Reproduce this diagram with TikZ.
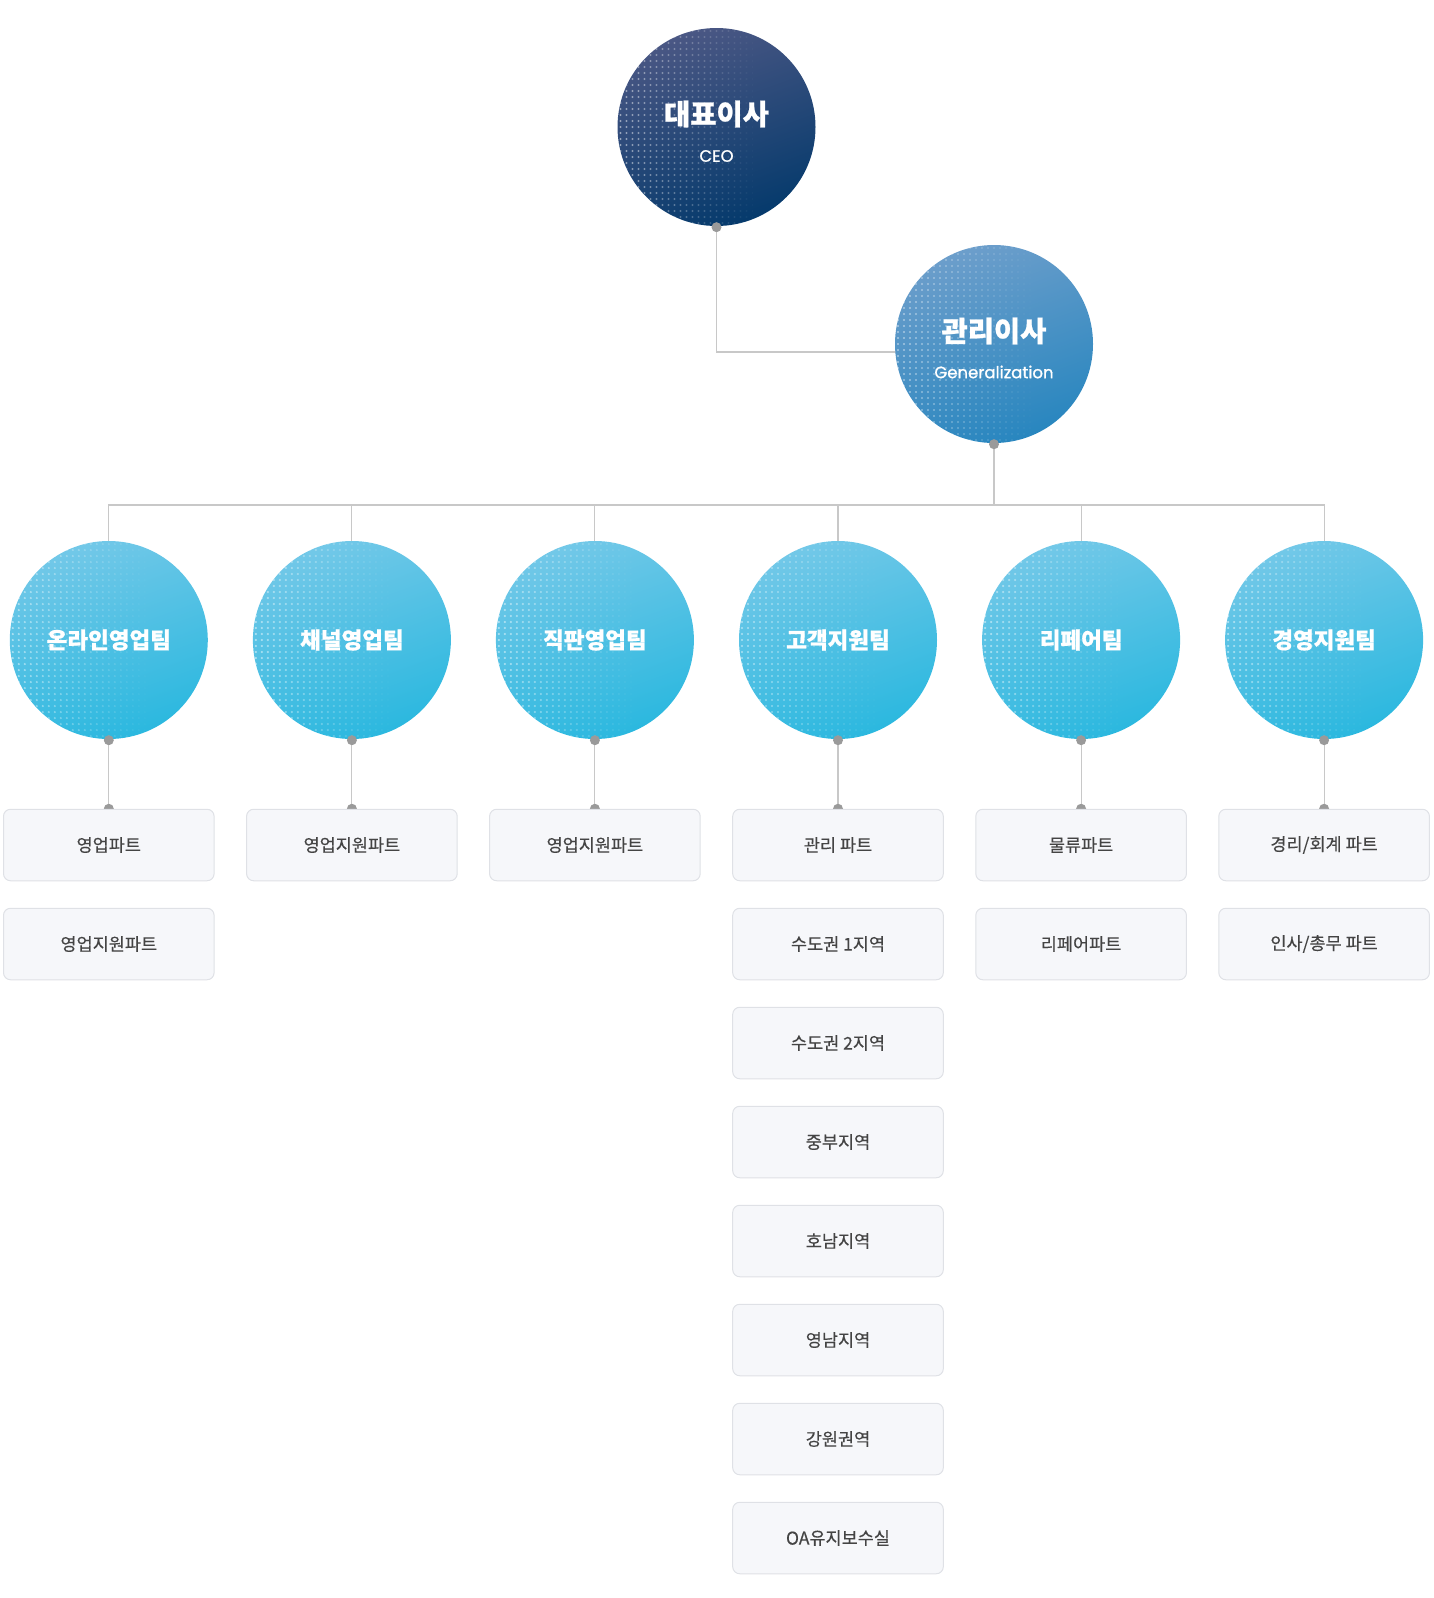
\documentclass[tikz,border=0pt]{standalone}
\usepackage{fontspec}
\setmainfont{Noto Sans CJK KR}[BoldFeatures={FakeBold=0.8}]
\newfontfamily\boxfont{Noto Sans CJK KR}[FakeBold=0.35]
\newfontfamily\popfont{Poppins}[FakeBold=1.1]
\usetikzlibrary{calc}
\pgfdeclarelayer{bg}
\pgfsetlayers{bg,main}
\definecolor{ceoA}{HTML}{4A5784}
\definecolor{ceoM}{HTML}{163B6E}
\definecolor{ceoB}{HTML}{053A6C}
\definecolor{mgrA}{HTML}{6C9ECB}
\definecolor{mgrM}{HTML}{338AC2}
\definecolor{mgrB}{HTML}{2886BF}
\definecolor{teamA}{HTML}{72C8E8}
\definecolor{teamM}{HTML}{33BBE1}
\definecolor{teamB}{HTML}{2BB8DF}
\definecolor{linec}{HTML}{C8C8C8}
\definecolor{dotc}{HTML}{9A9A9A}
\definecolor{boxfill}{HTML}{F6F7FA}
\definecolor{boxline}{HTML}{DFE1E6}
\definecolor{boxtext}{HTML}{444444}
\newcommand\mydotfield[3]{%
  \begin{scope}
    \clip (#1,#2) circle (#3);
    \foreach \i in {0,...,22}{
      \pgfmathsetmacro\al{0.5*(1-\i/23)}
      \pgfmathsetmacro\xx{#1-#3+3+6*\i}
      \fill[white,opacity=\al] \foreach \j in {0,...,33}{ (\xx,{#2-#3+3+6*\j}) circle (1.2) };
    }
  \end{scope}}
\tikzset{
  bigcirc/.style={circle, minimum size=198, inner sep=0, text=white},
  ceostyle/.style={bigcirc, top color=ceoA, middle color=ceoM, bottom color=ceoB, shading angle=20},
  mgrstyle/.style={bigcirc, top color=mgrA, middle color=mgrM, bottom color=mgrB, shading angle=20},
  teamstyle/.style={bigcirc, top color=teamA, middle color=teamM, bottom color=teamB, shading angle=20},
  teamtitle/.style={text=white, font=\fontsize{22.5}{24}\selectfont\bfseries, inner sep=0},
  bigtitle/.style={text=white, font=\fontsize{28.5}{30}\selectfont\bfseries, inner sep=0},
  subtitle/.style={text=white, font=\fontsize{16.5}{18}\selectfont\popfont, inner sep=0},
  partbox/.style={draw=boxline, line width=1, fill=boxfill, rounded corners=7,
     minimum width=210.6, minimum height=71.5, inner sep=0, text=boxtext,
     font=\fontsize{17.5}{19}\selectfont\boxfont},
  conn/.style={draw=linec, line width=1.1},
  jdot/.style={fill=dotc},
}
\begin{document}
\begin{tikzpicture}[x=1pt,y=-1pt]
\useasboundingbox (0,0) rectangle (1433,1598);
% top circles
\node[ceostyle] (ceo) at (716.5,127) {};
\mydotfield{716.5}{127}{99}
\node[bigtitle] (ceot) at (716.5,114) {대표이사};
\node[subtitle] (ceos) at (716.5,156) {CEO};
\node[mgrstyle] (mgr) at (994,344) {};
\mydotfield{994}{344}{99}
\node[bigtitle] (mgrt) at (994,331) {관리이사};
\node[subtitle] (mgrs) at (994,372) {Generalization};
% teams
\node[teamstyle] (t1) at (108.8,640) {};
\node[teamstyle] (t2) at (351.9,640) {};
\node[teamstyle] (t3) at (594.9,640) {};
\node[teamstyle] (t4) at (838,640) {};
\node[teamstyle] (t5) at (1081.1,640) {};
\node[teamstyle] (t6) at (1324.1,640) {};
\mydotfield{108.8}{640}{99}
\mydotfield{351.9}{640}{99}
\mydotfield{594.9}{640}{99}
\mydotfield{838}{640}{99}
\mydotfield{1081.1}{640}{99}
\mydotfield{1324.1}{640}{99}
\node[teamtitle] (tt1) at (t1.center) {온라인영업팀};
\node[teamtitle] (tt2) at (t2.center) {채널영업팀};
\node[teamtitle] (tt3) at (t3.center) {직판영업팀};
\node[teamtitle] (tt4) at (t4.center) {고객지원팀};
\node[teamtitle] (tt5) at (t5.center) {리페어팀};
\node[teamtitle] (tt6) at (t6.center) {경영지원팀};
% boxes
\node[partbox] (b11) at (108.8,845) {영업파트};
\node[partbox] (b12) at (108.8,944) {영업지원파트};
\node[partbox] (b21) at (351.9,845) {영업지원파트};
\node[partbox] (b31) at (594.9,845) {영업지원파트};
\node[partbox] (b41) at (838,845) {관리 파트};
\node[partbox] (b42) at (838,944) {수도권 1지역};
\node[partbox] (b43) at (838,1043) {수도권 2지역};
\node[partbox] (b44) at (838,1142) {중부지역};
\node[partbox] (b45) at (838,1241) {호남지역};
\node[partbox] (b46) at (838,1340) {영남지역};
\node[partbox] (b47) at (838,1439) {강원권역};
\node[partbox] (b48) at (838,1538) {OA유지보수실};
\node[partbox] (b51) at (1081.1,845) {물류파트};
\node[partbox] (b52) at (1081.1,944) {리페어파트};
\node[partbox] (b61) at (1324.1,845) {경리/회계 파트};
\node[partbox] (b62) at (1324.1,944) {인사/총무 파트};
% connectors (behind)
\coordinate (bus) at (994,505);
\coordinate (mgrin) at (900,352);
\begin{pgfonlayer}{bg}
  \draw[conn] (ceo.south) |- (mgrin);
  \draw[conn] (mgr.south) -- (bus);
  \foreach \n in {1,...,6}{
    \draw[conn] (bus) -| (t\n.north);
    \draw[conn] (t\n.south) -- (b\n1.north);
    \fill[jdot] (b\n1.north) circle (5);
  }
\end{pgfonlayer}
% junction dots at circle bottoms
\fill[jdot] ($(ceo.south)+(0,1)$) circle (5);
\fill[jdot] ($(mgr.south)+(0,1)$) circle (5);
\foreach \n in {1,...,6}{
  \fill[jdot] ($(t\n.south)+(0,1)$) circle (5);
}
\end{tikzpicture}
\end{document}
